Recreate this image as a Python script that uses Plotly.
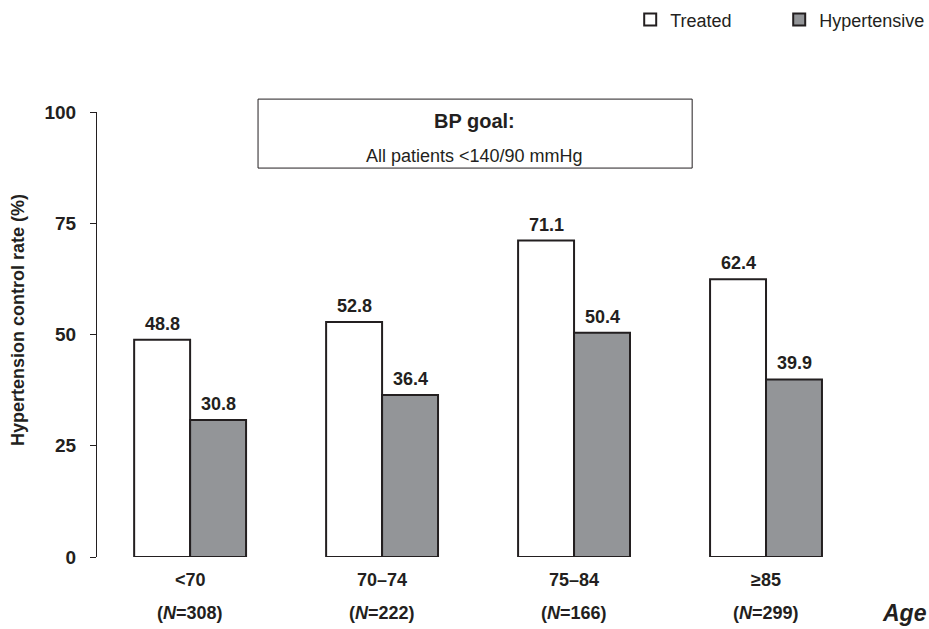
import plotly.graph_objects as go

categories = ["<70", "70–74", "75–84", "≥85"]
n_labels = ["(<i>N</i>=308)", "(<i>N</i>=222)", "(<i>N</i>=166)", "(<i>N</i>=299)"]
treated = [48.8, 52.8, 71.1, 62.4]
hypertensive = [30.8, 36.4, 50.4, 39.9]
y_ticks = [0, 25, 50, 75, 100]

FONT = "Liberation Sans, Arial, sans-serif"
EDGE = "#231f20"
GRAY = "#939598"

x = list(range(len(categories)))

fig = go.Figure()
fig.add_trace(go.Bar(
    x=x, y=treated, name="Treated",
    marker=dict(color="white", line=dict(color=EDGE, width=2)),
))
fig.add_trace(go.Bar(
    x=x, y=hypertensive, name="Hypertensive",
    marker=dict(color=GRAY, line=dict(color=EDGE, width=2)),
))

annotations = []
for i, (t, h) in enumerate(zip(treated, hypertensive)):
    annotations.append(dict(x=i, y=t, xref="x", yref="y", text=f"<b>{t:.1f}</b>", xshift=-28,
                            yanchor="bottom", yshift=4, showarrow=False,
                            font=dict(size=18, color=EDGE, family=FONT)))
    annotations.append(dict(x=i, y=h, xref="x", yref="y", text=f"<b>{h:.1f}</b>", xshift=28,
                            yanchor="bottom", yshift=4, showarrow=False,
                            font=dict(size=18, color=EDGE, family=FONT)))
for i, (c, n) in enumerate(zip(categories, n_labels)):
    annotations.append(dict(x=i, y=-0.052, xref="x", yref="paper", text=f"<b>{c}</b>",
                            yanchor="middle", showarrow=False,
                            font=dict(size=18, color=EDGE, family=FONT)))
    annotations.append(dict(x=i, y=-0.126, xref="x", yref="paper", text=f"<b>{n}</b>",
                            yanchor="middle", showarrow=False,
                            font=dict(size=18, color=EDGE, family=FONT)))
annotations.append(dict(x=1.056, y=-0.126, xref="paper", yref="paper", text="<b><i>Age</i></b>",
                        xanchor="center", yanchor="middle", showarrow=False,
                        font=dict(size=23, color=EDGE, family=FONT)))
annotations.append(dict(x=0.494, y=0.980, xref="paper", yref="paper", text="<b>BP goal:</b>",
                        yanchor="middle", showarrow=False, font=dict(size=20, color=EDGE, family=FONT)))
annotations.append(dict(x=0.494, y=0.901, xref="paper", yref="paper", text="All patients <140/90 mmHg",
                        yanchor="middle", showarrow=False, font=dict(size=18, color=EDGE, family=FONT)))
annotations.append(dict(x=-0.103, y=0.533, xref="paper", yref="paper",
                        text="<b>Hypertension control rate (%)</b>", textangle=-90,
                        xanchor="center", yanchor="middle", showarrow=False,
                        font=dict(size=18, color=EDGE, family=FONT)))

fig.update_layout(
    width=929, height=629,
    margin=dict(l=97, r=67, t=112, b=72, autoexpand=False),
    paper_bgcolor="white", plot_bgcolor="white",
    barmode="group", bargap=0.417, bargroupgap=0,
    font=dict(family=FONT, color=EDGE),
    showlegend=True,
    legend=dict(orientation="h", x=0.697, xanchor="left", y=1.207, yanchor="middle",
                font=dict(size=18, color=EDGE, family=FONT), entrywidth=104,
                bgcolor="rgba(0,0,0,0)"),
    xaxis=dict(range=[-0.485, 3.5], showticklabels=False, showline=False, showgrid=False,
               zeroline=False, ticks=""),
    yaxis=dict(range=[0, 100], tickvals=y_ticks, ticktext=[f"<b>{t}</b>" for t in y_ticks],
               showline=True, linecolor=EDGE, linewidth=1, ticks="outside", ticklen=6,
               tickcolor=EDGE, showgrid=False, zeroline=False, automargin=False,
               ticklabelstandoff=10,
               tickfont=dict(size=19, color=EDGE, family=FONT)),
    annotations=annotations,
    shapes=[dict(type="rect", xref="paper", yref="paper", x0=0.2105, x1=0.778, y0=0.874, y1=1.029,
                 line=dict(color=EDGE, width=1), fillcolor="rgba(0,0,0,0)")],
)

fig.write_html("out.html", config={"displayModeBar": False},
               post_script="document.body.style.margin='0';document.body.style.overflow='hidden';")
